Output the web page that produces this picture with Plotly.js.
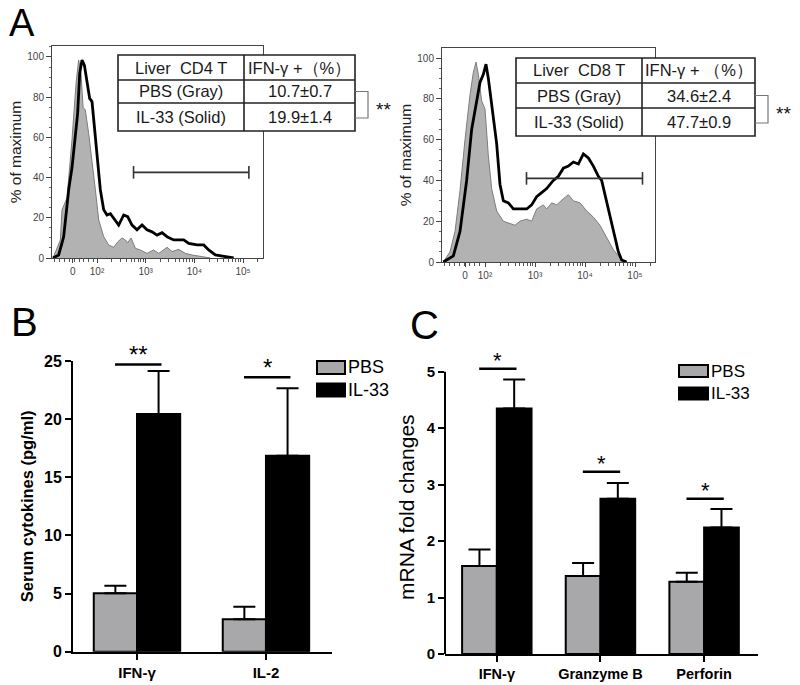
<!DOCTYPE html>
<html>
<head>
<meta charset="utf-8">
<script src="https://cdn.plot.ly/plotly-3.0.1.min.js"></script>
<style>html,body{margin:0;padding:0;background:#fff;}#chart{width:800px;height:685px;}</style>
</head>
<body>
<div id="chart"></div>
<script>
// ---------- Panel A: flow histograms (x in display decades: 2 = 10^2 ... ; 0 label at biexp zero) ----------
const cd4PbsX = [1.096,1.247,1.281,1.384,1.486,1.573,1.623,1.671,1.713,1.760,1.828,1.897,1.966,2.034,2.137,2.240,2.342,2.425,2.514,2.582,2.630,2.699,2.788,2.890,3.027,3.164,3.267,3.438,3.541,3.678,3.815,3.952,4.123,4.329];
const cd4PbsY = [0,9,24,30,59,88,98.5,92,75,73.6,62,48.8,34,19,10.6,6.5,5.3,8,10,9,7.6,10,4.8,4,2.3,4,2.3,5.3,3.2,4.3,2.3,1.5,0.7,0];
const cd4Il33X = [1.096,1.212,1.315,1.418,1.486,1.555,1.602,1.644,1.692,1.740,1.795,1.849,1.897,1.945,2.0,2.068,2.137,2.205,2.274,2.356,2.445,2.548,2.630,2.719,2.822,2.925,3.027,3.130,3.233,3.336,3.438,3.575,3.781,3.884,4.055,4.192,4.294,4.431,4.603,4.808];
const cd4Il33Y = [0,1.5,10.6,34,45,62,72,92,98.5,96,88.6,79.4,77.8,65,48.8,34,24,21.4,22,19,16.4,21.4,20.6,16.4,14,16.4,14,13,11.4,12.6,10.6,9,9,7.3,6.5,6.5,4,1.5,0.7,0];
const cd4GateX = [2.75, 5.12];
const cd4GateY = [42.6, 42.6];

const cd8PbsX = [1.167,1.3,1.4,1.5,1.6,1.7,1.767,1.82,1.867,1.933,2.0,2.067,2.133,2.233,2.367,2.5,2.6,2.7,2.833,2.933,3.033,3.167,3.233,3.333,3.433,3.567,3.667,3.767,3.9,4.033,4.167,4.3,4.433,4.567,4.7,4.8];
const cd8PbsY = [0,5,15,35,60,82,93,98,92,79,75,52,36,25,20,19,18,20,21,20,26,28,26,29,28,31,33,30,29,25,22,18,12,6,2,0];
const cd8Il33X = [1.167,1.367,1.5,1.633,1.733,1.833,1.9,1.967,2.02,2.067,2.133,2.233,2.3,2.367,2.467,2.567,2.7,2.833,2.933,3.033,3.133,3.233,3.367,3.467,3.567,3.667,3.767,3.867,3.967,4.067,4.167,4.267,4.333,4.433,4.533,4.6,4.667,4.733,4.833];
const cd8Il33Y = [0,3,15,40,65,80,88,92,97,90,78,58,38,30,29,26,26,26,28,32,34,36,40,42,46,47,49,48,53,51,47,42,40,30,20,12,5,1,0];
const cd8GateX = [2.83, 5.15];
const cd8GateY = [41, 41];

const aTickValsCD4 = [1.5, 2, 3, 4, 5];
const aTickValsCD8 = [1.6, 2, 3, 4, 5];
const aTickText = ['0', '10²', '10³', '10⁴', '10⁵'];

const tableCD4 = [['Liver  CD4 T', 'IFN-γ +（%）'], ['PBS (Gray)', '10.7±0.7'], ['IL-33 (Solid)', '19.9±1.4']];
const tableCD8 = [['Liver  CD8 T', 'IFN-γ + （%）'], ['PBS (Gray)', '34.6±2.4'], ['IL-33 (Solid)', '47.7±0.9']];

// ---------- Panel B: serum cytokines ----------
const bCats = ['IFN-γ', 'IL-2'];
const bPbs = [5.02, 2.78];
const bPbsSem = [0.66, 1.09];
const bIl33 = [20.44, 16.86];
const bIl33Sem = [3.70, 5.79];
const bSigY = [24.7, 23.6];
const bStars = ['**', '*'];

// ---------- Panel C: mRNA fold changes ----------
const cCats = ['IFN-γ', 'Granzyme B', 'Perforin'];
const cPbs = [1.56, 1.38, 1.28];
const cPbsSem = [0.29, 0.23, 0.16];
const cIl33 = [4.35, 2.75, 2.24];
const cIl33Sem = [0.51, 0.28, 0.33];
const cSigY = [5.05, 3.23, 2.75];
const cStars = ['*', '*', '*'];

// ---------- helpers ----------
const W = 800, H = 685;
const px = x => x / W;
const py = y => 1 - y / H;
const FONT = 'Liberation Sans, Arial, sans-serif';
const GRAY_FILL = '#b2b2b2';
const BAR_GRAY = '#a8a8ab';

function minorLog(lo) {
  const v = [];
  for (let t = lo; t < 1.98; t += 0.1) v.push(+t.toFixed(2));
  for (let n = 2; n < 5; n++) for (let k = 2; k < 10; k++) v.push(n + Math.log10(k));
  for (let k = 2; k < 3; k++) v.push(5 + Math.log10(k));
  return v;
}

const traces = [];
function histTraces(xa, ya, pX, pY, iX, iY, gX, gY) {
  traces.push({x: pX, y: pY, xaxis: xa, yaxis: ya, type: 'scatter', mode: 'lines', fill: 'tozeroy',
    fillcolor: GRAY_FILL, line: {color: '#7d7d7d', width: 1}, showlegend: false, hoverinfo: 'skip'});
  traces.push({x: iX, y: iY, xaxis: xa, yaxis: ya, type: 'scatter', mode: 'lines',
    line: {color: '#000', width: 2.8}, showlegend: false, hoverinfo: 'skip'});
  traces.push({x: gX, y: gY, xaxis: xa, yaxis: ya, type: 'scatter', mode: 'lines+markers',
    line: {color: '#333', width: 1.6}, marker: {symbol: 'line-ns', size: 9, line: {color: '#333', width: 1.6}},
    showlegend: false, hoverinfo: 'skip', cliponaxis: false});
}
histTraces('x', 'y', cd4PbsX, cd4PbsY, cd4Il33X, cd4Il33Y, cd4GateX, cd4GateY);
histTraces('x2', 'y2', cd8PbsX, cd8PbsY, cd8Il33X, cd8Il33Y, cd8GateX, cd8GateY);

function barTraces(xa, ya, n, pbs, pbsSem, il, ilSem) {
  const idx = Array.from({length: n}, (_, i) => i);
  traces.push({x: idx, y: pbs, xaxis: xa, yaxis: ya, type: 'bar', name: 'PBS',
    marker: {color: BAR_GRAY, line: {color: '#000', width: 2}},
    error_y: {type: 'data', symmetric: false, array: pbsSem, arrayminus: pbs.map(() => 0), color: '#000', thickness: 2, width: 11},
    showlegend: false, hoverinfo: 'skip'});
  traces.push({x: idx, y: il, xaxis: xa, yaxis: ya, type: 'bar', name: 'IL-33',
    marker: {color: '#000', line: {color: '#000', width: 2}},
    error_y: {type: 'data', symmetric: false, array: ilSem, arrayminus: il.map(() => 0), color: '#000', thickness: 2, width: 11},
    showlegend: false, hoverinfo: 'skip'});
}
barTraces('x3', 'y3', bCats.length, bPbs, bPbsSem, bIl33, bIl33Sem);
barTraces('x4', 'y4', cCats.length, cPbs, cPbsSem, cIl33, cIl33Sem);

const shapes = [];
const annotations = [];

// tables
function drawTable(rows, x0, x1, xc, y0, y1, rY) {
  shapes.push({type: 'rect', xref: 'paper', yref: 'paper', x0: px(x0), x1: px(x1), y0: py(y0), y1: py(y1),
    fillcolor: '#fff', line: {color: '#222', width: 1.6}, layer: 'above'});
  shapes.push({type: 'line', xref: 'paper', yref: 'paper', x0: px(xc), x1: px(xc), y0: py(y0), y1: py(y1), line: {color: '#222', width: 1.6}, layer: 'above'});
  shapes.push({type: 'line', xref: 'paper', yref: 'paper', x0: px(x0), x1: px(x1), y0: py(rY[0]), y1: py(rY[0]), line: {color: '#222', width: 1.6}, layer: 'above'});
  shapes.push({type: 'line', xref: 'paper', yref: 'paper', x0: px(x0), x1: px(x1), y0: py(rY[1]), y1: py(rY[1]), line: {color: '#222', width: 1.6}, layer: 'above'});
  const rowC = [(y0 + rY[0]) / 2, (rY[0] + rY[1]) / 2, (rY[1] + y1) / 2];
  const colC = [(x0 + xc) / 2, (xc + x1) / 2];
  rows.forEach((r, i) => r.forEach((t, j) => {
    annotations.push({xref: 'paper', yref: 'paper', x: px(colC[j]), y: py(rowC[i]), text: t, showarrow: false,
      xanchor: 'center', yanchor: 'middle', font: {family: FONT, size: 16.5, color: '#1a1a1a'}});
  }));
  // significance bracket between rows 2 and 3
  const bx = x1 + 13;
  shapes.push({type: 'path', xref: 'paper', yref: 'paper',
    path: `M ${px(x1)} ${py(rowC[1])} L ${px(bx)} ${py(rowC[1])} L ${px(bx)} ${py(rowC[2] + 1)} L ${px(x1)} ${py(rowC[2] + 1)}`,
    line: {color: '#777', width: 1.2}, layer: 'above'});
  annotations.push({xref: 'paper', yref: 'paper', x: px(bx + 6), y: py((rowC[1] + rowC[2]) / 2 + 5), text: '**', showarrow: false,
    xanchor: 'left', yanchor: 'middle', font: {family: FONT, size: 19, color: '#111'}});
}
drawTable(tableCD4, 118, 355, 244, 55, 131, [80, 103]);
drawTable(tableCD8, 516, 755, 642, 58, 136, [83, 108]);

// significance lines and stars
function sig(xa, ya, ys, stars, fs) {
  ys.forEach((y, i) => {
    shapes.push({type: 'line', xref: xa, yref: ya, x0: i - 0.17, x1: i + 0.19, y0: y, y1: y, line: {color: '#000', width: 2.5}});
    annotations.push({xref: xa, yref: ya, x: i + 0.01, y: y, text: stars[i], showarrow: false, xanchor: 'center', yanchor: 'bottom',
      yshift: -6, font: {family: FONT, size: fs, color: '#000'}});
  });
}
sig('x3', 'y3', bSigY, bStars, 24);
sig('x4', 'y4', cSigY, cStars, 22);

// C y-axis line (axis range extends a bit above 5 for the significance mark)
shapes.push({type: 'line', xref: 'x4 domain', yref: 'y4', x0: 0, x1: 0, y0: 0, y1: 5, line: {color: '#000', width: 2}});

// custom legends
function legend(x0, x1, yP, yI, h, fs) {
  [[yP, BAR_GRAY, 'PBS'], [yI, '#000', 'IL-33']].forEach(([y, c, t]) => {
    shapes.push({type: 'rect', xref: 'paper', yref: 'paper', x0: px(x0), x1: px(x1), y0: py(y - h / 2), y1: py(y + h / 2),
      fillcolor: c, line: {color: '#000', width: 2}});
    annotations.push({xref: 'paper', yref: 'paper', x: px(x1 + 0.5), y: py(y), text: t, showarrow: false, xanchor: 'left', yanchor: 'middle',
      font: {family: FONT, size: fs, color: '#000'}});
  });
}
legend(317, 345, 367.5, 390, 13, 18);
legend(679, 708, 371, 393.5, 12, 17);

// panel letters
annotations.push({xref: 'paper', yref: 'paper', x: px(22), y: 1, text: 'A', showarrow: false, xanchor: 'center', yanchor: 'top',
  font: {family: FONT, size: 38, color: '#000'}});
[['B', 24, 322], ['C', 424, 325]].forEach(([t, x, y]) => {
  annotations.push({xref: 'paper', yref: 'paper', x: px(x), y: py(y), text: t, showarrow: false, xanchor: 'center', yanchor: 'middle',
    font: {family: FONT, size: 40, color: '#000'}});
});

const histX = (dom, range, tv) => ({
  domain: dom, range: range, tickmode: 'array', tickvals: tv, ticktext: aTickText, ticks: 'outside', ticklen: 4, tickwidth: 1,
  tickcolor: '#444', showline: true, linecolor: '#444', linewidth: 1, mirror: true, showgrid: false, zeroline: false,
  tickfont: {family: FONT, size: 10, color: '#444'}, fixedrange: true,
  minor: {tickmode: 'array', tickvals: minorLog(range[0] + 0.05), ticks: 'outside', ticklen: 2.5, tickcolor: '#555', showgrid: false}
});
const histY = (dom, range, std) => ({
  domain: dom, range: range, tickmode: 'array', tickvals: [0, 20, 40, 60, 80, 100], ticks: 'outside', ticklen: 5, tickwidth: 1,
  tickcolor: '#444', showline: true, linecolor: '#444', linewidth: 1, mirror: true, showgrid: false, zeroline: false,
  tickfont: {family: FONT, size: 10, color: '#444'}, fixedrange: true,
  minor: {dtick: 5, ticks: 'outside', ticklen: 2, tickcolor: '#666', showgrid: false},
  title: {text: '% of maximum', font: {family: FONT, size: 15.5, color: '#222'}, standoff: std}
});

const layout = {
  width: W, height: H, margin: {l: 0, r: 0, t: 0, b: 0}, paper_bgcolor: '#fff', plot_bgcolor: 'rgba(0,0,0,0)',
  showlegend: false, barmode: 'group', bargap: 0.33, bargroupgap: 0,
  font: {family: FONT},
  xaxis: Object.assign(histX([px(52), px(263)], [1.075, 5.41], aTickValsCD4), {anchor: 'y'}),
  yaxis: Object.assign(histY([py(258), py(46)], [0, 105.47], 1), {anchor: 'x'}),
  xaxis2: Object.assign(histX([px(442), px(655)], [1.14, 5.4], aTickValsCD8), {anchor: 'y2'}),
  yaxis2: Object.assign(histY([py(262), py(48)], [0, 104.9], 1), {anchor: 'x2'}),
  xaxis3: {anchor: 'y3', domain: [px(73), px(332)], range: [-0.496, 1.512], tickmode: 'array', tickvals: [0, 1], ticktext: bCats,
    ticks: 'outside', ticklen: 6, tickwidth: 2, tickcolor: '#000', showline: true, linewidth: 2, linecolor: '#000',
    showgrid: false, zeroline: false, fixedrange: true, tickfont: {family: FONT, size: 15, color: '#000', weight: 'bold'}},
  yaxis3: {anchor: 'x3', domain: [py(651.7), py(361)], range: [0, 25], tickmode: 'array', tickvals: [0, 5, 10, 15, 20, 25],
    ticks: 'outside', ticklen: 6, tickwidth: 2, tickcolor: '#000', showline: true, linewidth: 2, linecolor: '#000',
    showgrid: false, zeroline: false, fixedrange: true, tickfont: {family: FONT, size: 16, color: '#000', weight: 'bold'},
    title: {text: 'Serum cytokines (pg/ml)', font: {family: FONT, size: 16.5, color: '#000', weight: 'bold'}, standoff: 6}},
  xaxis4: {anchor: 'y4', domain: [px(445), px(758)], range: [-0.5, 2.52], tickmode: 'array', tickvals: [0, 1, 2], ticktext: cCats,
    ticks: 'outside', ticklen: 6, tickwidth: 2, tickcolor: '#000', showline: true, linewidth: 2, linecolor: '#000',
    showgrid: false, zeroline: false, fixedrange: true, tickfont: {family: FONT, size: 14.5, color: '#000', weight: 'bold'}},
  yaxis4: {anchor: 'x4', domain: [py(654), py(360.4)], range: [0, 5.2], tickmode: 'array', tickvals: [0, 1, 2, 3, 4, 5],
    ticks: 'outside', ticklen: 6, tickwidth: 2, tickcolor: '#000', showline: false,
    showgrid: false, zeroline: false, fixedrange: true, tickfont: {family: FONT, size: 15, color: '#000', weight: 'bold'},
    title: {text: 'mRNA fold changes', font: {family: FONT, size: 21, color: '#000'}, standoff: 6}},
  shapes: shapes,
  annotations: annotations
};

Plotly.newPlot('chart', traces, layout, {displayModeBar: false, staticPlot: true});
</script>
</body>
</html>
